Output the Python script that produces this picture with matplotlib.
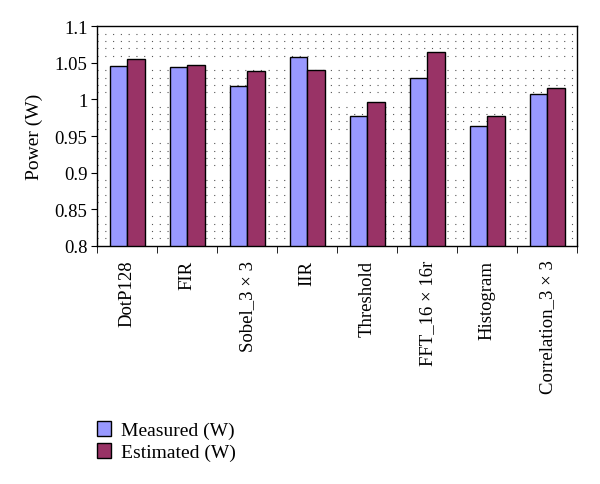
import matplotlib
matplotlib.use("Agg")
import matplotlib.pyplot as plt
import numpy as np

categories = ["DotP128", "FIR", "Sobel_3 \u00d7 3", "IIR", "Threshold",
              "FFT_16 \u00d7 16r", "Histogram", "Correlation_3 \u00d7 3"]
measured = [1.046, 1.045, 1.018, 1.058, 0.977, 1.029, 0.964, 1.007]
estimated = [1.055, 1.047, 1.039, 1.040, 0.996, 1.065, 0.978, 1.016]
yticks = [0.8, 0.85, 0.9, 0.95, 1.0, 1.05, 1.1]
ytick_labels = ["0.8", "0.85", "0.9", "0.95", "1", "1.05", "1.1"]

plt.rcParams['font.family'] = ['Liberation Serif', 'DejaVu Serif']

fig = plt.figure(figsize=(6, 4.85), dpi=100)
ax = fig.add_axes([0.162, 0.4913, 0.800, 0.4524])

x = np.arange(len(categories))
w = 0.29
b1 = ax.bar(x - w / 2, [m - 0.8 for m in measured], w, bottom=0.8,
            color="#9999FF", edgecolor="black", linewidth=1.0,
            label="Measured (W)", zorder=3)
b2 = ax.bar(x + w / 2, [e - 0.8 for e in estimated], w, bottom=0.8,
            color="#993366", edgecolor="black", linewidth=1.0,
            label="Estimated (W)", zorder=3)

ax.set_xlim(-0.5, len(categories) - 0.5)
ax.set_ylim(0.8, 1.1)
ax.set_yticks(yticks)
ax.set_yticklabels(ytick_labels, fontsize=13.5)
ax.set_xticks(x)
ax.set_xticklabels(categories, rotation=90, fontsize=13.5)
ax.tick_params(axis='x', length=0, pad=10)
ax.set_xticks(np.arange(len(categories) + 1) - 0.5, minor=True)
ax.tick_params(axis='x', which='minor', length=5, direction='out')
ax.tick_params(axis='y', length=4, direction='out', pad=3)

# dotted background pattern
ax.set_yticks(np.arange(0.8, 1.1001, 0.01), minor=True)
ax.tick_params(axis='y', which='minor', length=0)
ax.grid(axis='y', which='minor', linestyle=(0, (1, 6)), color='#555555',
        linewidth=0.8, zorder=0)

for s in ax.spines.values():
    s.set_linewidth(1.0)

ax.set_ylabel("Power (W)", fontsize=14, labelpad=8)

fig.legend(handles=[b1, b2], loc='upper left', bbox_to_anchor=(0.132, 0.165),
           frameon=False, fontsize=14, handlelength=0.75, handleheight=0.75,
           handletextpad=0.5, labelspacing=0.2)

fig.savefig("out.png", dpi=100)
